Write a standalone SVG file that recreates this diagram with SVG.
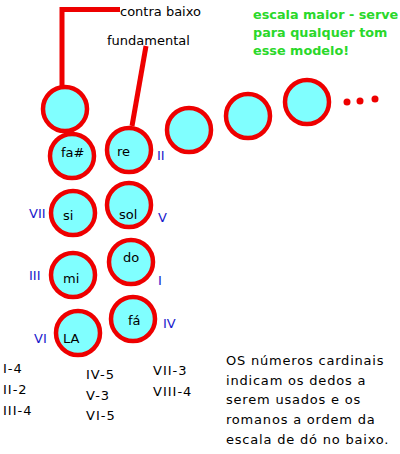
<svg xmlns="http://www.w3.org/2000/svg" width="400" height="454" viewBox="0 0 400 454">
<style>
.n{fill:#80ffff;stroke:#ee0000;stroke-width:4.5}
.l{font-family:"DejaVu Sans",sans-serif;font-size:13px;fill:#000}
.r{font-family:"DejaVu Sans",sans-serif;font-size:13px;fill:#1a1acc}
.g{font-family:"DejaVu Sans",sans-serif;font-size:12.8px;font-weight:bold;fill:#2ad82a}
.p{font-family:"DejaVu Sans",sans-serif;font-size:13px;fill:#000;letter-spacing:0.8px}
.f{font-family:"DejaVu Sans",sans-serif;font-size:13px;fill:#000;letter-spacing:1px}
.c{fill:none;stroke:#ee0000;stroke-width:5}
</style>
<rect width="400" height="454" fill="#fff"/>
<g id="connectors">
<polyline class="c" points="120,9.5 62,9.5 62,88"/>
<line class="c" x1="146" y1="46" x2="132" y2="126"/>
</g>
<g id="top-notes">
<text class="l" x="120" y="16">contra baixo</text>
<text class="l" x="107" y="45">fundamental</text>
</g>
<g id="title">
<text class="g" x="253" y="19">escala maior - serve</text>
<text class="g" x="253" y="37">para qualquer tom</text>
<text class="g" x="253" y="55">esse modelo!</text>
</g>
<g id="node-bass"><circle class="n" cx="65" cy="109" r="22"/></g>
<g id="node-fa"><circle class="n" cx="72" cy="156" r="22"/><text class="l" x="61" y="157">fa#</text></g>
<g id="node-re"><circle class="n" cx="129" cy="150" r="22"/><text class="l" x="117" y="156">re</text><text class="r" x="157" y="160">II</text></g>
<g id="node-e1"><circle class="n" cx="189" cy="130" r="22"/></g>
<g id="node-e2"><circle class="n" cx="248" cy="116" r="22"/></g>
<g id="node-e3"><circle class="n" cx="307" cy="102" r="22"/></g>
<g id="ellipsis">
<circle cx="347" cy="102" r="3.5" fill="#ee0000"/>
<circle cx="360" cy="101" r="3.5" fill="#ee0000"/>
<circle cx="375" cy="99" r="3.5" fill="#ee0000"/>
</g>
<g id="node-si"><circle class="n" cx="73" cy="213" r="22"/><text class="l" x="63" y="220">si</text><text class="r" x="29" y="218">VII</text></g>
<g id="node-sol"><circle class="n" cx="129" cy="205" r="22"/><text class="l" x="119" y="219">sol</text><text class="r" x="158" y="222">V</text></g>
<g id="node-do"><circle class="n" cx="131" cy="262" r="22"/><text class="l" x="123" y="262">do</text><text class="r" x="158" y="285">I</text></g>
<g id="node-mi"><circle class="n" cx="73" cy="275" r="22"/><text class="l" x="63" y="283">mi</text><text class="r" x="29" y="280">III</text></g>
<g id="node-fa2"><circle class="n" cx="133" cy="319" r="22"/><text class="l" x="128" y="325">fá</text><text class="r" x="163" y="328">IV</text></g>
<g id="node-la"><circle class="n" cx="78" cy="333" r="22"/><text class="l" x="63" y="343">LA</text><text class="r" x="34" y="343">VI</text></g>
<g id="fingering">
<text class="f" x="3" y="373">I-4</text>
<text class="f" x="3" y="394">II-2</text>
<text class="f" x="3" y="415">III-4</text>
<text class="f" x="86" y="379">IV-5</text>
<text class="f" x="86" y="400">V-3</text>
<text class="f" x="86" y="420">VI-5</text>
<text class="f" x="153" y="375">VII-3</text>
<text class="f" x="153" y="396">VIII-4</text>
</g>
<g id="note">
<text class="p" x="226" y="365">OS números cardinais</text>
<text class="p" x="226" y="384.5">indicam os dedos a</text>
<text class="p" x="226" y="404">serem usados e os</text>
<text class="p" x="226" y="424">romanos a ordem da</text>
<text class="p" x="226" y="443.5">escala de dó no baixo.</text>
</g>
</svg>
